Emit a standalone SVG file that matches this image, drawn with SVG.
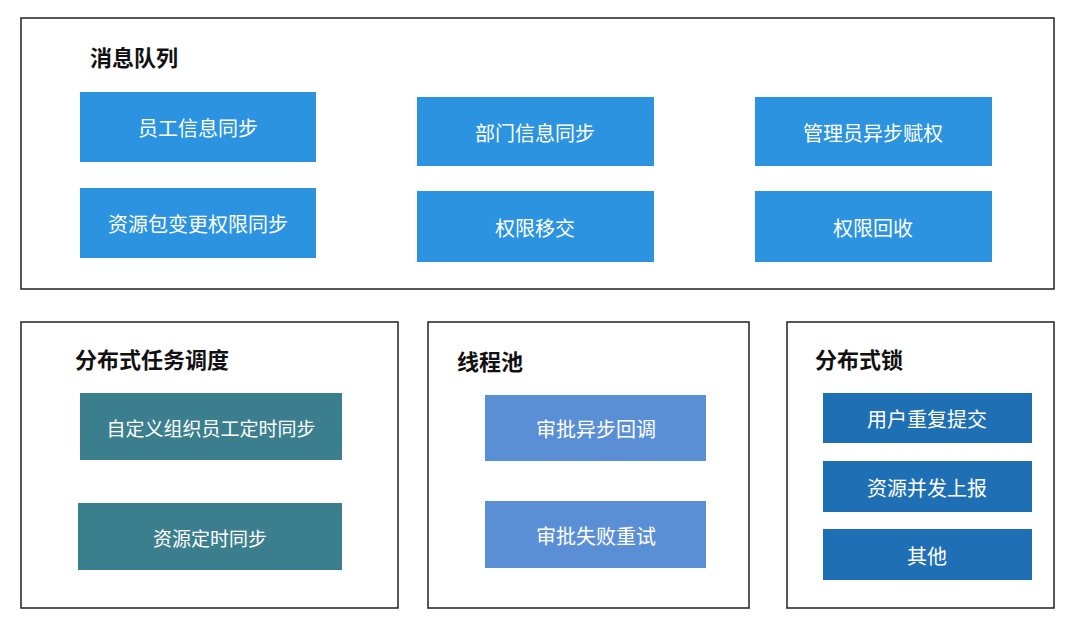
<svg xmlns="http://www.w3.org/2000/svg" width="1080" height="632" viewBox="0 0 1080 632">
<style>
.frame{fill:#fff;stroke:#222;stroke-width:1.5}
.t{font-family:"Noto Sans CJK SC","Noto Sans",sans-serif;font-weight:bold;font-size:22px;fill:#111}
.l{font-family:"Noto Sans CJK SC","Noto Sans",sans-serif;font-size:20px;fill:#fff;text-anchor:middle;dominant-baseline:central}
.a{fill:#2b93e0}.b{fill:#3b7f8f}.c{fill:#5a8fd6}.d{fill:#1f6fb5}
</style>
<rect width="1080" height="632" fill="#fff"/>
<g id="mq">
<rect class="frame" x="21" y="18" width="1033" height="271"/>
<text class="t" x="90" y="66">消息队列</text>
</g>
<g id="n1"><rect class="a" x="80" y="92" width="236" height="70"/><text class="l" x="198" y="127">员工信息同步</text></g>
<g id="n2"><rect class="a" x="80" y="188" width="236" height="70"/><text class="l" x="198" y="223">资源包变更权限同步</text></g>
<g id="n3"><rect class="a" x="417" y="97" width="237" height="69"/><text class="l" x="535" y="132">部门信息同步</text></g>
<g id="n4"><rect class="a" x="417" y="191" width="237" height="71"/><text class="l" x="535" y="227">权限移交</text></g>
<g id="n5"><rect class="a" x="755" y="97" width="237" height="69"/><text class="l" x="873" y="132">管理员异步赋权</text></g>
<g id="n6"><rect class="a" x="755" y="191" width="237" height="71"/><text class="l" x="873" y="227">权限回收</text></g>
<g id="sched">
<rect class="frame" x="21" y="322" width="377" height="286"/>
<text class="t" x="75" y="368">分布式任务调度</text>
</g>
<g id="n7"><rect class="b" x="80" y="393" width="262" height="67"/><text class="l" x="211" y="427" style="font-size:19px">自定义组织员工定时同步</text></g>
<g id="n8"><rect class="b" x="78" y="503" width="264" height="67"/><text class="l" x="210" y="537" style="font-size:19px">资源定时同步</text></g>
<g id="pool">
<rect class="frame" x="428" y="322" width="321" height="286"/>
<text class="t" x="457" y="370">线程池</text>
</g>
<g id="n9"><rect class="c" x="485" y="395" width="221" height="66"/><text class="l" x="596" y="428">审批异步回调</text></g>
<g id="n10"><rect class="c" x="485" y="501" width="221" height="67"/><text class="l" x="596" y="535">审批失败重试</text></g>
<g id="lock">
<rect class="frame" x="787" y="322" width="267" height="286"/>
<text class="t" x="815" y="368">分布式锁</text>
</g>
<g id="n11"><rect class="d" x="823" y="393" width="209" height="50"/><text class="l" x="927" y="418">用户重复提交</text></g>
<g id="n12"><rect class="d" x="823" y="461" width="209" height="51"/><text class="l" x="927" y="487">资源并发上报</text></g>
<g id="n13"><rect class="d" x="823" y="529" width="209" height="51"/><text class="l" x="927" y="555">其他</text></g>
<g id="connectors"/>
</svg>
